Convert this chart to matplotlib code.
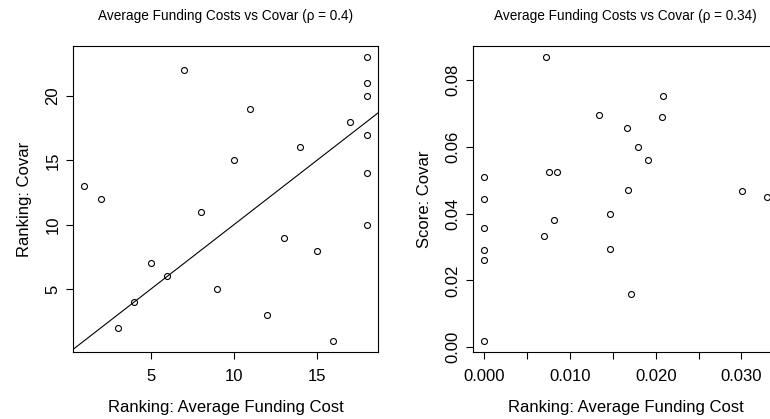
import numpy as np
import matplotlib
matplotlib.use("Agg")
import matplotlib.pyplot as plt

plt.rcParams['font.family'] = ['Liberation Sans', 'DejaVu Sans']

# left panel: rankings
rank_cost = [1, 2, 3, 4, 5, 6, 7, 8, 9, 10, 11, 12, 13, 14, 15, 16, 17,
             18, 18, 18, 18, 18, 18]
rank_covar = [13, 12, 2, 4, 7, 6, 22, 11, 5, 15, 19, 3, 9, 16, 8, 1, 18,
              23, 21, 20, 17, 14, 10]

# right panel: scores
score_cost = [0.0, 0.0, 0.0, 0.0, 0.0, 0.0,
              0.00697, 0.00716, 0.00755, 0.00813, 0.00848,
              0.01335, 0.01472, 0.01472, 0.01659, 0.01678, 0.01713,
              0.01794, 0.01904, 0.02075, 0.02087, 0.03002, 0.03294]
score_covar = [0.0509, 0.0443, 0.0358, 0.0290, 0.0261, 0.0020,
               0.0333, 0.0867, 0.0525, 0.0381, 0.0525,
               0.0696, 0.0398, 0.0295, 0.0657, 0.0471, 0.0161,
               0.0599, 0.0560, 0.0688, 0.0750, 0.0466, 0.0448]

titles = ["Average Funding Costs vs Covar (\u03c1 = 0.4)",
          "Average Funding Costs vs Covar (\u03c1 = 0.34)"]
xlab = "Ranking: Average Funding Cost"
ylabs = ["Ranking: Covar", "Score: Covar"]


def rlim(v):
    # R style 4% padding
    lo, hi = min(v), max(v)
    d = (hi - lo) * 0.04
    return lo - d, hi + d


fig = plt.figure(figsize=(7.7, 4.19), dpi=100)
ax1 = fig.add_axes([73 / 770, 67 / 419, 305 / 770, 306 / 419])
ax2 = fig.add_axes([473 / 770, 67 / 419, 305 / 770, 306 / 419])

for ax in (ax1, ax2):
    for s in ax.spines.values():
        s.set_linewidth(0.8)
    ax.tick_params(direction='out', length=5, width=0.8, labelsize=12)
    ax.tick_params(axis='x', pad=7)
    ax.tick_params(axis='y', pad=4)
    ax.set_xlabel(xlab, fontsize=12, labelpad=12)

# left
ax1.plot(rank_cost, rank_covar, 'o', mfc='none', mec='black', ms=4.3, mew=0.8)
ax1.set_xlim(rlim(rank_cost))
ax1.set_ylim(rlim(rank_covar))
xl = np.array(ax1.get_xlim())
ax1.plot(xl, xl, color='black', lw=0.8)
ax1.set_xlim(rlim(rank_cost))
ax1.set_xticks([5, 10, 15])
ax1.set_yticks([5, 10, 15, 20])
ax1.set_yticklabels(['5', '10', '15', '20'], rotation=90, va='center')
ax1.set_ylabel(ylabs[0], fontsize=12, labelpad=10)
ax1.set_title(titles[0], fontsize=9.8, pad=19)

# right
ax2.plot(score_cost, score_covar, 'o', mfc='none', mec='black', ms=4.3, mew=0.8)
ax2.set_xlim(rlim(score_cost))
ax2.set_ylim(rlim(score_covar))
ax2.set_xticks([0, 0.005, 0.01, 0.015, 0.02, 0.025, 0.03])
ax2.set_xticklabels(['0.000', '', '0.010', '', '0.020', '', '0.030'])
ax2.set_yticks([0, 0.02, 0.04, 0.06, 0.08])
ax2.set_yticklabels(['0.00', '0.02', '0.04', '0.06', '0.08'], rotation=90, va='center')
ax2.set_ylabel(ylabs[1], fontsize=12, labelpad=10)
ax2.set_title(titles[1], fontsize=9.8, pad=19)

fig.savefig('out.png', dpi=100)
